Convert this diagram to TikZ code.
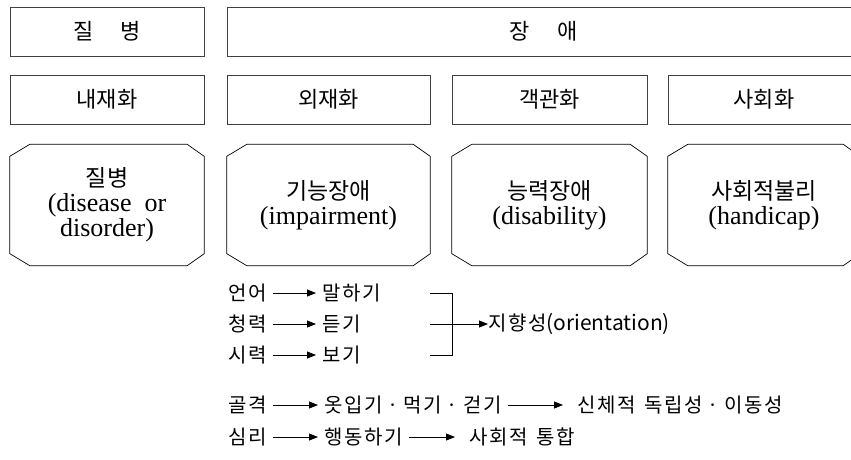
\documentclass[tikz,border=0pt]{standalone}
\usepackage{fontspec}
\newfontfamily\kr{Noto Sans CJK KR}
\newfontfamily\krs{Noto Sans CJK KR}[LetterSpace=8]
\newfontfamily\lat{Liberation Serif}
\usetikzlibrary{arrows.meta}
\newcommand\octpath[1]{%
  \draw[octline] ([xshift=20pt]#1.north west) -- ([xshift=-17pt]#1.north east)
    -- ([yshift=-12pt]#1.north east) -- ([yshift=12pt]#1.south east)
    -- ([xshift=-17pt]#1.south east) -- ([xshift=20pt]#1.south west)
    -- ([yshift=12pt]#1.south west) -- ([yshift=-12pt]#1.north west) -- cycle;}
\newcommand\kdot{\makebox[1.05em]{·}}
\begin{document}
\begin{tikzpicture}[x=1pt,y=-1pt,
  box/.style={draw=black!75, line width=0.9pt, minimum height=49pt, inner sep=0pt,
    font=\kr\fontsize{22}{25}\selectfont},
  octtext/.style={inner sep=0pt, minimum height=121pt, align=center,
    font=\lat\fontsize{26}{25}\selectfont},
  octline/.style={draw=black, line width=0.7pt},
  lbl/.style={inner sep=0pt, anchor=west, font=\krs\fontsize{20}{22}\selectfont},
  arr/.style={-{Triangle[length=9pt,width=7pt]}, line width=0.8pt,
    shorten <=6pt, shorten >=6pt},
  brk/.style={line width=0.8pt}
]
\useasboundingbox (0,0) rectangle (851,459);
% top row
\node[box, minimum width=194pt] (ill) at (107,31.5) {질\hspace{27pt}병};
\node[box, minimum width=633pt] (dis) at (543.5,31.5) {장\hspace{27pt}애};
% second row
\node[box, minimum width=194pt] (int) at (107,99.5) {내재화};
\node[box, minimum width=203pt] (ext) at (328.5,99.5) {외재화};
\node[box, minimum width=195pt] (obj) at (549.5,99.5) {객관화};
\node[box, minimum width=192pt] (soc) at (764,99.5) {사회화};
% octagons
\node[octtext, minimum width=194pt] (o1) at (107,205) {{\kr\fontsize{23}{25}\selectfont 질병}\\(disease\ \ or\\disorder)};
\node[octtext, minimum width=203pt] (o2) at (328.5,205) {{\kr\fontsize{23}{25}\selectfont 기능장애}\\(impairment)};
\node[octtext, minimum width=195pt] (o3) at (549.5,205) {{\kr\fontsize{23}{25}\selectfont 능력장애}\\(disability)};
\node[octtext, minimum width=192pt] (o4) at (764,205) {{\kr\fontsize{23}{25}\selectfont 사회적불리}\\(handicap)};
\octpath{o1}\octpath{o2}\octpath{o3}\octpath{o4}
% bottom lines
\node[lbl] (a1) at (228,293) {언어};
\node[lbl] (b1) at (322,293) {말하기};
\node[lbl] (a2) at (228,324) {청력};
\node[lbl] (b2) at (322,324) {듣기};
\node[lbl] (a3) at (228,355) {시력};
\node[lbl] (b3) at (322,355) {보기};
\node[lbl] (a4) at (228,405) {골격};
\node[lbl] (b4) at (324,405) {옷입기\kdot 먹기\kdot 걷기};
\node[lbl] (c4) at (577,405) {신체적\hspace{9pt}독립성\kdot 이동성};
\node[lbl] (a5) at (228,437) {심리};
\node[lbl] (b5) at (324,437) {행동하기};
\node[lbl] (c5) at (469,437) {사회적\hspace{9pt}통합};
\draw[arr] (a1.east) -- (b1.west);
\draw[arr] (a2.east) -- (b2.west);
\draw[arr] (a3.east) -- (b3.west);
\draw[arr] (a4.east) -- (b4.west);
\draw[arr] (a5.east) -- (b5.west);
\draw[arr, shorten >=14pt] (b4.east) -- (c4.west);
\draw[arr, shorten >=14pt] (b5.east) -- (c5.west);
% bracket
\coordinate (t1) at (430,293);
\coordinate (t2) at (430,324);
\coordinate (t3) at (430,355);
\coordinate (v1) at (452,293);
\coordinate (v3) at (452,355);
\node[lbl] (ori) at (488,324) {지향성{\kr\fontsize{21}{22}\selectfont(orientation)}};
\draw[brk] (t1) -- (v1) -- (v3) -- (t3);
\draw[arr, shorten <=0pt, shorten >=0pt] (t2) -- (ori.west);
\end{tikzpicture}
\end{document}
